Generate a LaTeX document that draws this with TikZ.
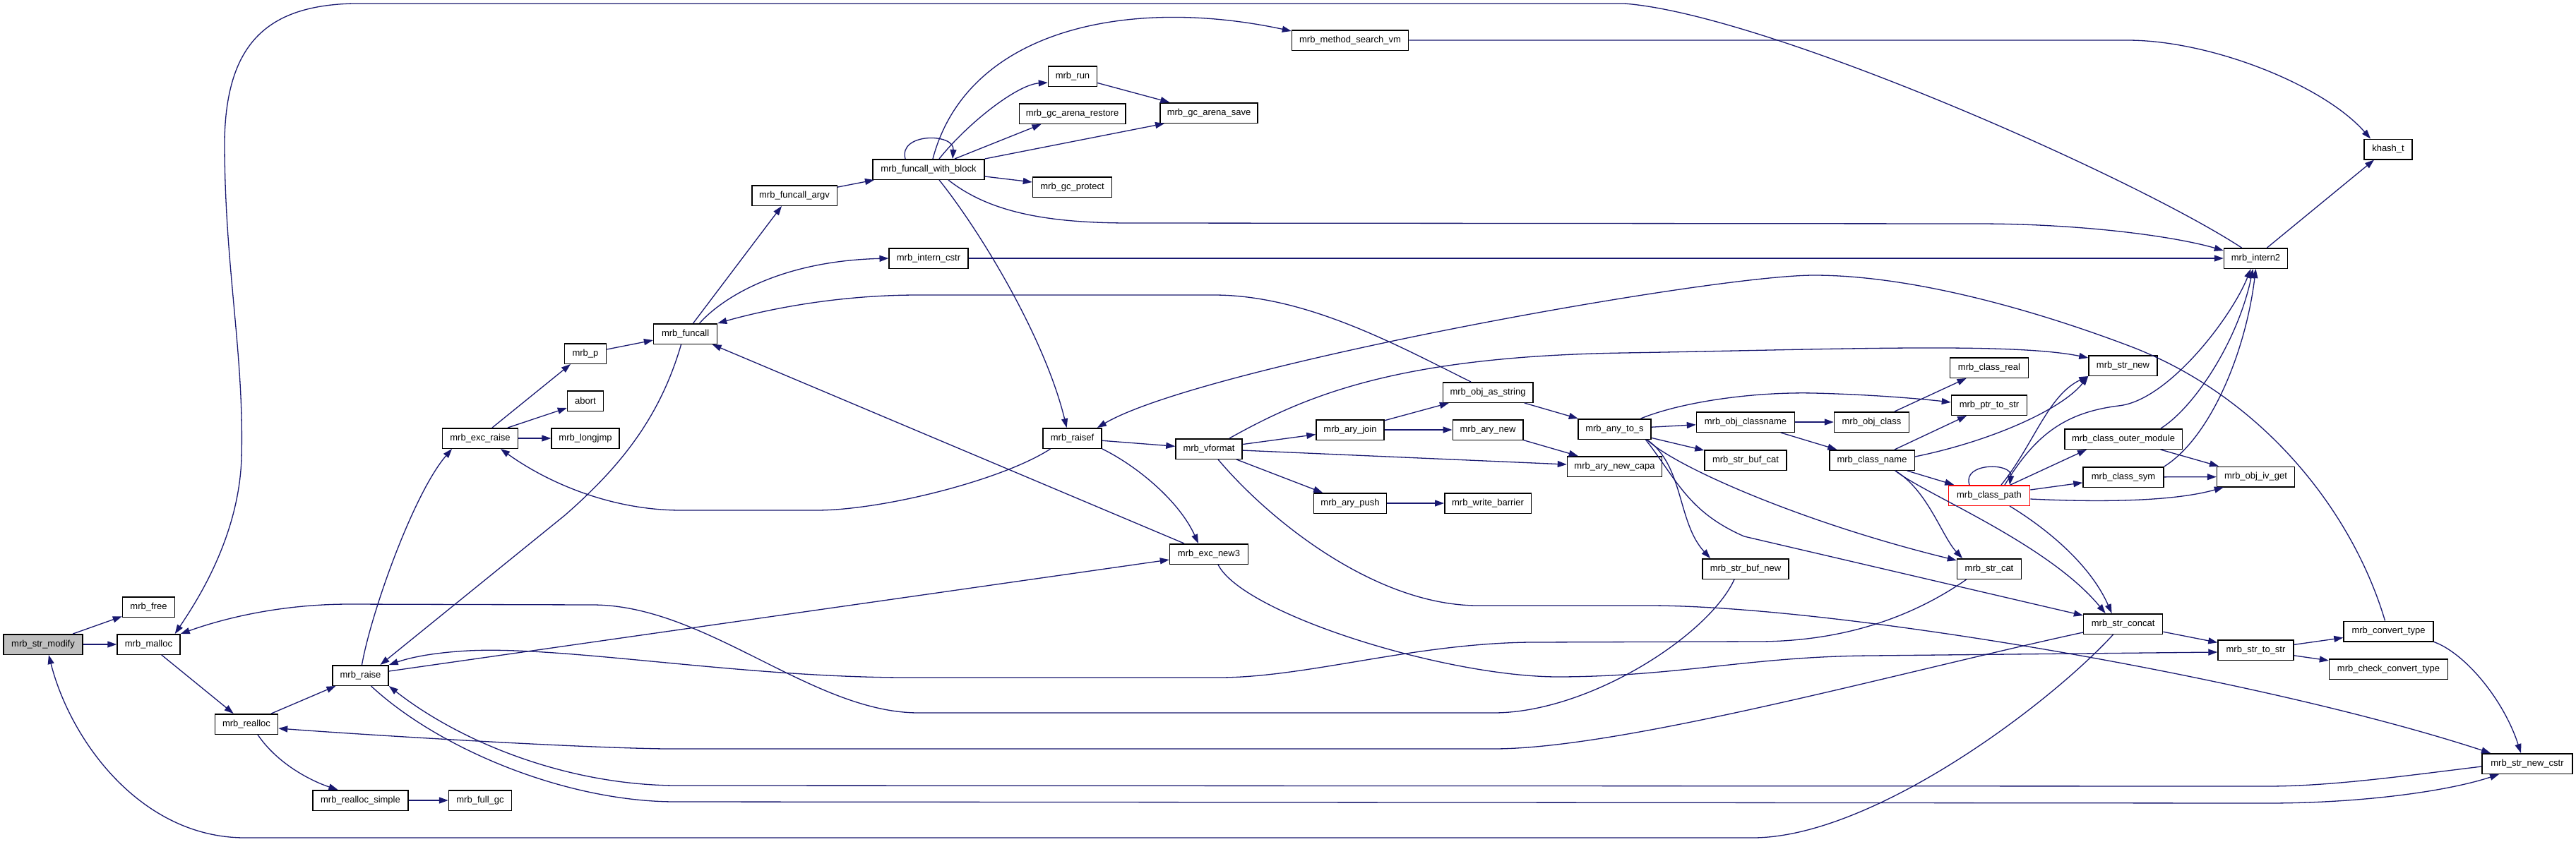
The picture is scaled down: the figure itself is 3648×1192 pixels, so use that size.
\documentclass[tikz,border=0pt]{standalone}
\usepackage{fontspec}
\setmainfont{Liberation Sans}
\usetikzlibrary{arrows.meta}
\definecolor{edgeblue}{HTML}{191970}
\definecolor{rootgray}{HTML}{BFBFBF}
\newcommand\dgfont{\fontsize{13}{15}\selectfont}
\tikzset{
  fn/.style={draw=black, line width=1.5pt, fill=white, minimum height=28.5pt, inner xsep=1pt, inner ysep=0pt, font=\dgfont},
  rootfn/.style={fn, fill=rootgray},
  redfn/.style={fn, draw=red},
  e/.style={draw=edgeblue, line width=1.3pt, -{Triangle[length=13pt,width=9pt]}}
}
\begin{document}
\begin{tikzpicture}[x=1pt,y=-1pt]
\fill[white] (0,0) rectangle (3648,1192);
\useasboundingbox (0,0) rectangle (3648,1192);
% nodes
\node[rootfn, minimum width=112pt] (sm) at (61,913) {mrb\_str\_modify};
\node[fn, minimum width=74pt] (free) at (210.5,860) {mrb\_free};
\node[fn, minimum width=89pt] (malloc) at (210.5,913) {mrb\_malloc};
\node[fn, minimum width=89pt] (realloc) at (349,1026) {mrb\_realloc};
\node[fn, minimum width=79pt] (raise) at (510.5,957) {mrb\_raise};
\node[fn, minimum width=135pt] (rsimple) at (510.5,1134) {mrb\_realloc\_simple};
\node[fn, minimum width=89pt] (fullgc) at (680,1134) {mrb\_full\_gc};
\node[fn, minimum width=107pt] (excraise) at (680,621) {mrb\_exc\_raise};
\node[fn, minimum width=59pt] (p) at (829,501) {mrb\_p};
\node[fn, minimum width=51pt] (abort) at (829,568) {abort};
\node[fn, minimum width=96pt] (longjmp) at (829,621) {mrb\_longjmp};
\node[fn, minimum width=90pt] (funcall) at (970.6,473) {mrb\_funcall};
\node[fn, minimum width=120.5pt] (argv) at (1125,277) {mrb\_funcall\_argv};
\node[fn, minimum width=111.6pt] (icstr) at (1315,366) {mrb\_intern\_cstr};
\node[fn, minimum width=158pt] (fwb) at (1315,240) {mrb\_funcall\_with\_block};
\node[fn, minimum width=69pt] (run) at (1519,108) {mrb\_run};
\node[fn, minimum width=150.5pt] (restore) at (1518.5,161) {mrb\_gc\_arena\_restore};
\node[fn, minimum width=112pt] (protect) at (1518.5,265) {mrb\_gc\_protect};
\node[fn, minimum width=165pt] (msvm) at (1912,57) {mrb\_method\_search\_vm};
\node[fn, minimum width=138pt] (save) at (1712,160) {mrb\_gc\_arena\_save};
\node[fn, minimum width=83pt] (raisef) at (1518.6,621) {mrb\_raisef};
\node[fn, minimum width=94pt] (vformat) at (1712,636) {mrb\_vformat};
\node[fn, minimum width=111pt] (excnew3) at (1712,785) {mrb\_exc\_new3};
\node[fn, minimum width=96pt] (aryjoin) at (1912,609) {mrb\_ary\_join};
\node[fn, minimum width=103pt] (arypush) at (1912,713) {mrb\_ary\_push};
\node[fn, minimum width=127.5pt] (objas) at (2107,556) {mrb\_obj\_as\_string};
\node[fn, minimum width=99.5pt] (arynew) at (2107,609) {mrb\_ary\_new};
\node[fn, minimum width=122.5pt] (wb) at (2107,713) {mrb\_write\_barrier};
\node[fn, minimum width=103pt] (anytos) at (2286.5,608) {mrb\_any\_to\_s};
\node[fn, minimum width=134pt] (capa) at (2286.5,661) {mrb\_ary\_new\_capa};
\node[fn, minimum width=139pt] (objcn) at (2472,598) {mrb\_obj\_classname};
\node[fn, minimum width=116pt] (bufcat) at (2472,652) {mrb\_str\_buf\_cat};
\node[fn, minimum width=122pt] (bufnew) at (2472,806) {mrb\_str\_buf\_new};
\node[fn, minimum width=106pt] (objclass) at (2650.5,598) {mrb\_obj\_class};
\node[fn, minimum width=120.5pt] (cname) at (2651,652) {mrb\_class\_name};
\node[fn, minimum width=111pt] (creal) at (2817,521) {mrb\_class\_real};
\node[fn, minimum width=107pt] (ptrstr) at (2817,574) {mrb\_ptr\_to\_str};
\node[redfn, minimum width=115pt] (cpath) at (2817,702) {mrb\_class\_path};
\node[fn, minimum width=91pt] (strcat) at (2817,806) {mrb\_str\_cat};
\node[fn, minimum width=97pt] (strnew) at (3006.5,518) {mrb\_str\_new};
\node[fn, minimum width=166.5pt] (outer) at (3007,622) {mrb\_class\_outer\_module};
\node[fn, minimum width=114pt] (csym) at (3007,676) {mrb\_class\_sym};
\node[fn, minimum width=112pt] (concat) at (3006.6,884) {mrb\_str\_concat};
\node[fn, minimum width=90pt] (intern2) at (3194.5,366) {mrb\_intern2};
\node[fn, minimum width=110pt] (ivget) at (3194.5,675.5) {mrb\_obj\_iv\_get};
\node[fn, minimum width=107pt] (strtostr) at (3194.5,921) {mrb\_str\_to\_str};
\node[fn, minimum width=68pt] (khash) at (3382,211.5) {khash\_t};
\node[fn, minimum width=127pt] (convert) at (3382.5,894.5) {mrb\_convert\_type};
\node[fn, minimum width=168pt] (check) at (3382.5,948) {mrb\_check\_convert\_type};
\node[fn, minimum width=128pt] (cstr) at (3579,1082) {mrb\_str\_new\_cstr};
% edges
\draw[e] (sm) -- (free);
\draw[e] (sm) -- (malloc);
\draw[e] (malloc) -- (realloc);
\draw[e] (realloc) -- (raise);
\draw[e] ([xshift=16pt]realloc.south) .. controls (395,1085) and (445,1108) .. ([xshift=-32pt]rsimple.north);
\draw[e] (rsimple) -- (fullgc);
\draw[e] ([xshift=2pt]raise.north) .. controls (525,870) and (585,700) .. ([xshift=-40pt]excraise.south);
\draw[e] ([yshift=6pt]raise.east) -- ([yshift=-8pt]excnew3.west);
\draw[e] ([xshift=17pt]excraise.north) -- ([xshift=-21pt]p.south);
\draw[e] ([xshift=39pt]excraise.north) -- ([yshift=5pt]abort.south west);
\draw[e] (excraise) -- (longjmp);
\draw[e] (p) -- (funcall);
\draw[e] ([xshift=11pt]funcall.north) -- ([xshift=-18pt]argv.south);
\draw[e] ([xshift=20pt]funcall.north) .. controls (1020,425) and (1100,370) .. (icstr.west);
\draw[e] ([xshift=-6pt]funcall.south) .. controls (935,590) and (880,660) .. (800,730) -- ([xshift=28pt]raise.north);
\draw[e] (argv) -- (fwb);
\draw[e] ([xshift=-33pt]fwb.north) .. controls (1272,188) and (1352,188) .. ([xshift=34pt]fwb.north);
\draw[e] ([xshift=15pt]fwb.north) .. controls (1370,175) and (1440,120) .. ([yshift=-9pt]run.west);
\draw[e] ([xshift=37pt]fwb.north) -- ([xshift=-44pt]restore.south);
\draw[e] (fwb.north east) -- ([xshift=-63pt]save.south);
\draw[e] ([yshift=-10pt]fwb.east) -- ([yshift=7pt]protect.west);
\draw[e] ([xshift=6pt]fwb.north) .. controls (1370,40) and (1600,-5) .. ([yshift=-2pt]msvm.north west);
\draw[e] ([xshift=28pt]fwb.south) .. controls (1400,300) and (1480,316) .. (1600,316) -- (2800,317) .. controls (2950,317) and (3080,335) .. ([yshift=11pt]intern2.west);
\draw[e] ([xshift=15pt]fwb.south) .. controls (1390,330) and (1480,480) .. ([xshift=-8pt]raisef.north);
\draw[e] (run) -- (save);
\draw[e] (icstr) -- (intern2);
\draw[e] (msvm.east) -- (3013,57) .. controls (3130,57) and (3290,120) .. ([xshift=-25pt]khash.north);
\draw[e] ([xshift=16pt]intern2.north) -- ([xshift=-20pt]khash.south);
\draw[e] ([xshift=-20pt]intern2.north) .. controls (3020,250) and (2500,20) .. (2300,5) -- (500,5) .. controls (380,8) and (320,60) .. (318,200) .. controls (318,380) and (346,500) .. (342,650) .. controls (338,760) and (280,850) .. ([xshift=-8pt]malloc.north east);
\draw[e] (raisef) -- (vformat);
\draw[e] (raisef.south east) .. controls (1610,660) and (1670,710) .. ([xshift=-15pt]excnew3.north);
\draw[e] ([xshift=-31pt]raisef.south) .. controls (1420,680) and (1250,723) .. (1156,723) -- (965,723) .. controls (860,723) and (770,680) .. ([xshift=29pt]excraise.south);
\draw[e] ([xshift=-24pt]objas.north) .. controls (1980,490) and (1850,418) .. (1719,418) -- (1300,418) .. controls (1180,418) and (1080,440) .. (funcall.north east);
\draw[e] (vformat) -- (aryjoin);
\draw[e] (vformat) -- (capa);
\draw[e] (vformat) -- (arypush);
\draw[e] ([xshift=29pt]vformat.north) .. controls (1850,560) and (1980,505) .. (2300,500) .. controls (2600,495) and (2850,485) .. ([yshift=11pt]strnew.west);
\draw[e] ([xshift=13pt]vformat.south) .. controls (1800,740) and (1950,858) .. (2093,858) -- (2335,858) .. controls (2600,858) and (3200,960) .. ([xshift=-52pt]cstr.north);
\draw[e] (aryjoin) -- (objas);
\draw[e] (aryjoin) -- (arynew);
\draw[e] (arynew) -- (capa);
\draw[e] (objas) -- (anytos);
\draw[e] (arypush) -- (wb);
\draw[e] ([xshift=-35pt]excnew3.north) -- ([xshift=38pt]funcall.south);
\draw[e] ([xshift=13pt]excnew3.south) .. controls (1760,870) and (2050,960) .. (2210,959) .. controls (2380,958) and (2480,930) .. (2650,929) -- ([yshift=-3pt]strtostr.west);
\draw[e] (anytos) -- (objcn);
\draw[e] (anytos) -- (bufcat);
\draw[e] ([xshift=37pt]anytos.north) .. controls (2380,570) and (2480,555) .. (2569,557) .. controls (2650,559) and (2720,565) .. ([yshift=4pt]ptrstr.west);
\draw[e] ([xshift=46pt]anytos.south) .. controls (2385,660) and (2375,740) .. ([xshift=-50pt]bufnew.north);
\draw[e] ([xshift=46pt]anytos.south) .. controls (2370,660) and (2550,740) .. ([yshift=-3pt]strcat.north west);
\draw[e] ([xshift=44pt]anytos.south) .. controls (2375,680) and (2390,725) .. (2470,760) -- ([yshift=-3pt]concat.north west);
\draw[e] (objcn) -- (objclass);
\draw[e] (objcn) -- (cname);
\draw[e] (objclass) -- (creal);
\draw[e] (cname) -- (ptrstr);
\draw[e] ([yshift=5pt]cname.east) .. controls (2820,625) and (2920,580) .. (strnew.south west);
\draw[e] (cname) -- (cpath);
\draw[e] ([xshift=33pt]cname.south) .. controls (2730,695) and (2750,760) .. ([xshift=-38pt]strcat.north);
\draw[e] ([xshift=33pt]cname.south) .. controls (2725,700) and (2900,770) .. ([xshift=-25pt]concat.north);
\draw[e] ([xshift=-28pt]cpath.north) .. controls (2778,655) and (2850,655) .. ([xshift=29pt]cpath.north);
\draw[e] ([xshift=17pt]cpath.north) .. controls (2880,630) and (2900,560) .. (strnew.south west);
\draw[e] ([xshift=22pt]cpath.north) .. controls (2880,620) and (2920,585) .. (3000,575) .. controls (3070,568) and (3160,450) .. ([xshift=-7pt]intern2.south);
\draw[e] ([xshift=30pt]cpath.north) -- ([xshift=-52pt]outer.south);
\draw[e] (cpath) -- (csym);
\draw[e] ([yshift=-5pt]cpath.east) .. controls (2980,712) and (3080,710) .. ([xshift=10pt]ivget.south west);
\draw[e] ([xshift=29pt]cpath.south) .. controls (2900,750) and (2960,800) .. ([xshift=-16pt]concat.north);
\draw[e] (outer) -- (ivget);
\draw[e] ([xshift=53pt]outer.north) .. controls (3110,575) and (3170,480) .. ([xshift=-4pt]intern2.south);
\draw[e] (csym) -- (ivget);
\draw[e] (csym.north east) .. controls (3130,620) and (3180,500) .. (intern2.south);
\draw[e] (concat) -- (strtostr);
\draw[e] ([yshift=-12pt]concat.west) .. controls (2700,950) and (2300,1061) .. (2115,1061) -- (942,1061) .. controls (800,1059) and (500,1040) .. ([yshift=-6pt]realloc.east);
\draw[e] ([xshift=-14pt]concat.south) .. controls (2900,1000) and (2650,1187) .. (2482,1187) -- (347,1187) .. controls (200,1187) and (100,1050) .. ([xshift=8pt]sm.south);
\draw[e] ([yshift=-4pt]cstr.west) .. controls (3400,1100) and (3300,1114) .. (3210,1114) -- (957,1113) .. controls (800,1112) and (650,1050) .. (raise.south east);
\draw[e] ([xshift=15pt]raise.south) .. controls (620,1060) and (800,1136) .. (957,1136) -- (3210,1138) .. controls (3350,1138) and (3470,1120) .. ([xshift=-40pt]cstr.south);
\draw[e] ([xshift=-5pt]convert.north) .. controls (3330,720) and (3200,560) .. (3015,490) .. controls (2867,434) and (2700,390) .. (2569,390) .. controls (2420,390) and (1700,520) .. ([xshift=-7pt]raisef.north east);
\draw[e] (convert.south east) .. controls (3490,925) and (3545,990) .. ([xshift=-9pt]cstr.north);
\draw[e] (strtostr) -- (convert);
\draw[e] (strtostr) -- (check);
\draw[e] ([xshift=-16pt]bufnew.south) .. controls (2420,900) and (2250,1010) .. (2115,1010) -- (1301,1010) .. controls (1150,1010) and (1000,857) .. (839,857) -- (495,856) .. controls (400,856) and (320,875) .. (malloc.north east);
\draw[e] ([xshift=14pt]strcat.south west) .. controls (2700,880) and (2600,909) .. (2489,909) -- (2166,910) .. controls (2000,912) and (1850,960) .. (1726,960) -- (1286,960) .. controls (1050,960) and (800,915) .. (663,922) .. controls (610,925) and (580,932) .. (raise.north east);
\end{tikzpicture}
\end{document}
